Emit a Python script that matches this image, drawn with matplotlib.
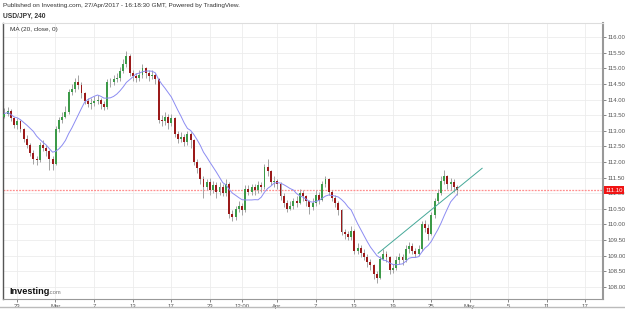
import matplotlib.pyplot as plt
import numpy as np
import pandas as pd

plt.rcParams['font.family'] = ['Liberation Sans', 'DejaVu Sans']

# USD/JPY candles (about 3 bars per trading day)
closes = [113.55, 113.62, 113.40, 113.20, 113.30, 113.05, 112.75, 112.55, 112.30, 112.10,
          112.05, 112.55, 112.45, 112.35, 112.10, 111.95, 113.05, 113.35, 113.45, 113.60,
          114.25, 114.35, 114.55, 114.45, 114.20, 113.95, 113.85, 113.90, 113.95, 114.00,
          113.85, 113.75, 114.55, 114.55, 114.65, 114.70, 114.90, 115.15, 115.40, 114.85,
          114.75, 114.70, 114.80, 115.00, 114.85, 114.75, 114.80, 114.65, 113.35, 113.30,
          113.45, 113.25, 113.40, 112.90, 112.75, 112.80, 112.65, 112.90, 112.70, 112.00,
          111.80, 111.45, 111.20, 111.35, 111.10, 111.25, 111.05, 111.20, 111.00, 111.30,
          110.35, 110.25, 110.50, 110.60, 110.45, 111.15, 111.05, 111.20, 111.10, 111.25,
          111.20, 111.85, 111.70, 111.35, 111.40, 111.30, 110.90, 110.70, 110.50, 110.60,
          110.75, 110.70, 111.00, 110.90, 110.75, 110.55, 110.70, 110.95, 110.80, 111.30,
          111.45, 111.05, 110.85, 110.70, 110.45, 109.75, 109.70, 109.60, 109.80, 109.15,
          109.25, 109.10, 108.95, 108.80, 108.70, 108.40, 108.30, 108.90, 109.05, 108.95,
          108.55, 108.60, 108.85, 108.95, 108.85, 109.20, 109.30, 109.15, 109.05, 109.20,
          110.00, 109.90, 109.70, 110.30, 110.75, 111.00, 111.40, 111.55, 111.30, 111.35,
          111.20, 111.10]
highs = [113.72, 113.75, 113.70, 113.45, 113.42, 113.35, 113.10, 112.85, 112.60, 112.40,
         112.20, 112.65, 112.70, 112.55, 112.40, 112.20, 113.15, 113.45, 113.60, 113.80,
         114.35, 114.50, 114.70, 114.78, 114.55, 114.25, 114.05, 114.05, 114.10, 114.15,
         114.05, 113.95, 114.65, 114.70, 114.80, 114.85, 115.05, 115.30, 115.55, 115.45,
         114.95, 114.85, 114.95, 115.15, 115.05, 114.95, 114.95, 114.85, 114.70, 113.50,
         113.60, 113.55, 113.55, 113.45, 113.00, 112.95, 112.90, 113.00, 112.95, 112.75,
         112.10, 111.85, 111.55, 111.45, 111.50, 111.40, 111.35, 111.35, 111.30, 111.45,
         111.35, 110.45, 110.60, 110.75, 110.70, 111.25, 111.25, 111.30, 111.30, 111.40,
         111.35, 111.95, 112.10, 111.75, 111.55, 111.45, 111.35, 111.00, 110.80, 110.75,
         110.85, 110.90, 111.15, 111.10, 110.95, 110.80, 110.85, 111.10, 111.05, 111.40,
         111.55, 111.50, 111.10, 110.95, 110.75, 110.50, 109.85, 109.80, 109.95, 109.85,
         109.40, 109.35, 109.20, 109.05, 108.90, 108.75, 108.50, 109.00, 109.20, 109.15,
         109.00, 108.75, 109.00, 109.10, 109.05, 109.35, 109.45, 109.40, 109.25, 109.35,
         110.10, 110.15, 110.00, 110.40, 110.85, 111.15, 111.55, 111.75, 111.60, 111.50,
         111.45, 111.25]
lows = [113.40, 113.48, 113.30, 113.10, 113.05, 112.95, 112.65, 112.45, 112.20, 111.95,
        111.90, 112.00, 112.35, 112.20, 111.75, 111.75, 111.90, 112.95, 113.25, 113.40,
        113.55, 114.15, 114.25, 114.35, 114.05, 113.85, 113.75, 113.70, 113.80, 113.85,
        113.70, 113.65, 113.70, 114.40, 114.45, 114.55, 114.60, 114.85, 115.05, 114.75,
        114.60, 114.55, 114.60, 114.70, 114.70, 114.60, 114.65, 114.50, 113.25, 113.15,
        113.20, 113.05, 113.15, 112.80, 112.60, 112.65, 112.50, 112.55, 112.45, 111.90,
        111.65, 111.30, 110.85, 111.10, 110.95, 111.00, 110.85, 110.95, 110.90, 110.90,
        110.20, 110.10, 110.15, 110.40, 110.30, 110.40, 110.95, 110.95, 110.95, 111.00,
        111.05, 111.15, 111.55, 111.25, 111.20, 111.15, 110.80, 110.55, 110.40, 110.45,
        110.50, 110.55, 110.65, 110.75, 110.60, 110.35, 110.45, 110.60, 110.65, 110.75,
        111.20, 110.95, 110.75, 110.55, 110.30, 109.65, 109.55, 109.50, 109.50, 109.05,
        109.05, 108.95, 108.85, 108.65, 108.55, 108.25, 108.12, 108.25, 108.85, 108.80,
        108.40, 108.45, 108.55, 108.75, 108.70, 108.80, 109.10, 109.05, 108.95, 109.00,
        109.15, 109.75, 109.50, 109.65, 110.20, 110.70, 110.95, 111.30, 111.15, 111.10,
        111.05, 110.95]
first_open = 113.45

# x axis in trading days counted from 23 Feb
tick_days = [0, 4, 8, 12, 16, 20, 23.4, 27, 31, 35, 39, 43, 47, 51, 55, 59]
tick_labels = ['23', 'Mar', '7', '13', '17', '23', '12:00', 'Apr', '7', '13',
               '19', '25', 'May', '5', '11', '17']
trend_days = [37.5, 48.3]
trend_prices = [109.08, 111.80]
last_price = 111.10

start_day = -1.3
c = np.array(closes)
o = np.r_[first_open, c[:-1]]
x = start_day + np.arange(len(c)) / 3
ma = pd.Series(c).rolling(10, min_periods=1).mean()

fig = plt.figure(figsize=(6.25, 3.09), dpi=100)
ax = fig.add_axes([3 / 625, 1 - 299 / 309, 600 / 625, 276 / 309])
ax.set_xlim(-1.45, 60.85)
ax.set_ylim(107.615, 116.45)
ax.grid(color='#ececec', lw=0.6)
ax.set_axisbelow(True)

up = c >= o
ax.vlines(x, lows, highs, color='#a3a3a3', lw=0.7, zorder=2)
body = np.maximum(np.abs(c - o), 0.02)
ax.bar(x[up], body[up], bottom=o[up], width=0.2, color='#3c9a48', zorder=3)
ax.bar(x[~up], body[~up], bottom=c[~up], width=0.2, color='#9b1a1a', zorder=3)

ax.plot(x, ma, color='#8c8cf2', lw=0.7, zorder=4)
ax.plot(trend_days, trend_prices, color='#45a898', lw=0.7, zorder=4)
ax.axhline(last_price, color='#ff8f8f', lw=0.9, ls=(0, (1.5, 1)), zorder=1)

ax.yaxis.tick_right()
yt = np.arange(108, 116.01, 0.5)
ax.set_yticks(yt, ['%.2f' % v for v in yt])
ax.set_xticks(tick_days, tick_labels)
ax.tick_params(axis='y', labelsize=4.3, colors='#555', length=2, width=0.5, pad=1.5)
ax.tick_params(axis='x', labelsize=4.3, colors='#555', length=2, width=0.5, pad=1.5)

ax.spines['left'].set_color('#555')
ax.spines['left'].set_linewidth(1)
ax.spines['right'].set_color('#999')
ax.spines['right'].set_linewidth(1.5)
ax.spines['bottom'].set_color('#999')
ax.spines['top'].set_color('#dddddd')
ax.spines['top'].set_linewidth(0.8)

ax.text(1.004, last_price, '%.2f' % last_price, transform=ax.get_yaxis_transform(),
        fontsize=4.3, color='white', va='center', ha='left', zorder=10, clip_on=False,
        bbox=dict(boxstyle='square,pad=0.2', fc='#f01414', ec='none'))

fig.text(3 / 625, 1 - 5 / 309,
         'Published on Investing.com, 27/Apr/2017 - 16:18:30 GMT, Powered by TradingView.',
         fontsize=4.6, color='#333', va='center')
fig.text(3 / 625, 1 - 16 / 309, 'USD/JPY, 240', fontsize=4.8, weight='bold',
         color='#333', va='center')
ax.text(7 / 600, 1 - 7 / 276, 'MA (20, close, 0)', transform=ax.transAxes,
        fontsize=4.6, color='#333', va='center')
fig.text(9 / 625, 1 - 292 / 309, 'Investing', fontsize=6.6, weight='bold',
         color='#111', va='center')
fig.text(48 / 625, 1 - 293 / 309, '.com', fontsize=4.2, color='#777', va='center')

fig.add_artist(plt.Line2D([0, 1], [1 - 307 / 309] * 2, transform=fig.transFigure,
                          color='#bbbbbb', lw=1))

fig.savefig('out.png', dpi=100)
